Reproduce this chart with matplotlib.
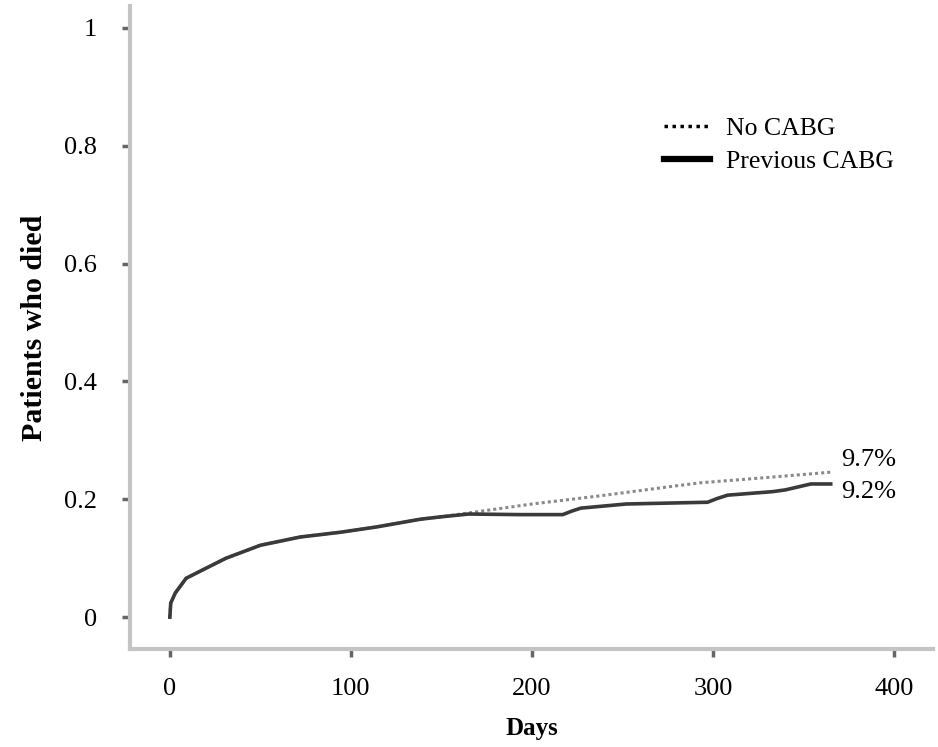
import matplotlib
matplotlib.use("Agg")
import matplotlib.pyplot as plt
from matplotlib.lines import Line2D

plt.rcParams['font.family'] = ['Liberation Serif', 'DejaVu Serif']

# cumulative mortality
no_cabg_days = [0, 0.5, 3, 9, 18, 31, 50, 72, 94, 114, 127, 138, 149, 170,
                200, 238, 275, 293, 330, 365]
no_cabg = [0.0, 0.024, 0.041, 0.066, 0.080, 0.100, 0.122, 0.136, 0.144, 0.153,
           0.160, 0.166, 0.170, 0.179, 0.192, 0.206, 0.221, 0.228, 0.237, 0.246]

prev_days = [0, 0.5, 3, 9, 18, 31, 50, 72, 94, 114, 127, 138, 149, 165,
             193, 217, 222, 227, 252, 297, 302, 308, 333, 340, 354, 365]
prev_cabg = [0.0, 0.024, 0.041, 0.066, 0.080, 0.100, 0.122, 0.136, 0.144, 0.153,
             0.160, 0.166, 0.170, 0.175, 0.174, 0.174, 0.180, 0.185, 0.192, 0.195,
             0.201, 0.207, 0.213, 0.216, 0.226, 0.226]

end_labels = ['9.7%', '9.2%']
yticks = [0, 0.2, 0.4, 0.6, 0.8, 1]
xticks = [0, 100, 200, 300, 400]

fig = plt.figure(figsize=(9.38, 7.47), dpi=100)
ax = fig.add_axes([0.1386, 0.1312, 0.8561, 0.8608])

ax.plot(no_cabg_days, no_cabg, color='#8a8a8a', lw=2.2, ls=(0, (1, 1)))
ax.plot(prev_days, prev_cabg, color='#3a3a3a', lw=2.6)

ax.text(371, 0.267, end_labels[0], fontsize=19, va='center', ha='left')
ax.text(371, 0.212, end_labels[1], fontsize=19, va='center', ha='left')

ax.set_xlim(-22, 421.5)
ax.set_ylim(-0.054, 1.037)
ax.set_xticks(xticks)
ax.set_yticks(yticks)
ax.set_yticklabels(['%g' % t for t in yticks])

for s in ['top', 'right']:
    ax.spines[s].set_visible(False)
for s in ['left', 'bottom']:
    ax.spines[s].set_color('#c4c4c4')
    ax.spines[s].set_linewidth(3)

ax.tick_params(axis='both', direction='out', length=6, width=2.5,
               color='#666666', labelsize=19)
ax.tick_params(axis='y', pad=18)
ax.tick_params(axis='x', pad=15)

ax.set_xlabel('Days', fontsize=18, fontweight='bold', labelpad=12)
ax.set_ylabel('Patients who died', fontsize=21.5, fontweight='bold', labelpad=11)

handles = [Line2D([], [], color='black', lw=2.5, ls=(0, (1, 1.3))),
           Line2D([], [], color='black', lw=4.5)]
ax.legend(handles, ['No CABG', 'Previous CABG'], loc='upper left',
          bbox_to_anchor=(0.649, 0.848), frameon=False, fontsize=18.5,
          handlelength=1.8, handletextpad=0.6, labelspacing=0.4, borderpad=0)

fig.savefig('out.png', dpi=100)
